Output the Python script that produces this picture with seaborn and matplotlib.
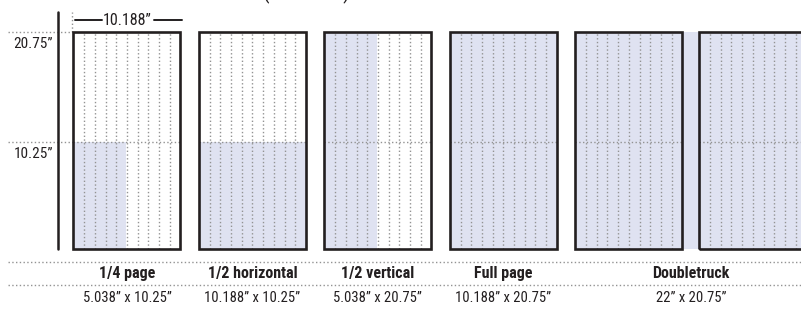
import matplotlib
matplotlib.use("Agg")
import matplotlib.pyplot as plt
import seaborn as sns

# ad sizes in inches
categories = ["1/4 page", "1/2 horizontal", "1/2 vertical", "Full page", "Doubletruck"]
ad_widths = [5.038, 10.188, 5.038, 10.188, 22]
ad_heights = [10.25, 10.25, 20.75, 20.75, 20.75]
size_labels = ["5.038\u201d x 10.25\u201d", "10.188\u201d x 10.25\u201d", "5.038\u201d x 20.75\u201d",
               "10.188\u201d x 20.75\u201d", "22\u201d x 20.75\u201d"]
page_w = 10.188
page_h = 20.75
half_h = 10.25
n_columns = 10
y_ticks = [20.75, 10.25]
y_tick_labels = ["20.75\u201d", "10.25\u201d"]

sns.set_theme(style="white")
plt.rcParams["font.family"] = ["Roboto Condensed", "Roboto", "DejaVu Sans"]

fig = plt.figure(figsize=(8.01, 3.11), dpi=100)
ax = fig.add_axes([0, 0, 1, 1])
ax.set_xlim(-7.0, 69.29)
ax.set_ylim(-5.93, 23.83)
ax.axis("off")

shade = "#dfe2f1"
ink = "#231f20"
dots = "#939393"
dot_style = dict(color=dots, lw=1.0, ls=(0, (1, 1.7)))
pitch = 11.95

lefts = [i * pitch for i in range(len(categories))]
ax.bar(lefts, ad_heights, width=ad_widths, align="edge", color=shade, linewidth=0, zorder=1)

for i, (left, w) in enumerate(zip(lefts, ad_widths)):
    pages = [left] if w <= page_w else [left, left + w - page_w]
    for p in pages:
        for k in range(1, n_columns):
            xc = p + k * page_w / n_columns
            ax.plot([xc, xc], [0, page_h], zorder=2, **dot_style)
        ax.plot([p, p + page_w], [half_h, half_h], zorder=2, **dot_style)
        ax.add_patch(plt.Rectangle((p, 0), page_w, page_h, fill=False, ec=ink, lw=1.9, zorder=3))
    cx = left + max(w, page_w) / 2
    ax.text(cx, -2.35, categories[i], ha="center", va="center", fontsize=11.5,
            fontweight="bold", color=ink)
    ax.text(cx, -4.72, size_labels[i], ha="center", va="center", fontsize=10.5, color=ink)

# left scale
for yv, lab in zip(y_ticks, y_tick_labels):
    ax.plot([-6.24, 0], [yv, yv], zorder=2, **dot_style)
    ax.text(-1.95, yv - 1.15, lab, ha="right", va="center", fontsize=11, color=ink)
ax.plot([-1.43, -1.43], [0, 22.68], color=ink, lw=1.8)

# width marker above first page
ax.plot([-0.1, -0.1], [page_h, 22.68], **dot_style)
ax.plot([0.14, 2.75], [21.9, 21.9], color=ink, lw=1.4)
ax.plot([7.7, 10.33], [21.9, 21.9], color=ink, lw=1.4)
ax.text(page_w / 2, 21.9, "10.188\u201d", ha="center", va="center", fontsize=11.5, color=ink)

# clipped heading at the very top
ax.text(22.2, 23.88, "(in inches)", ha="center", va="baseline", fontsize=15, color=ink)

# separators below the pages
for yv in [-1.24, -3.44]:
    ax.plot([-6.24, 69.29], [yv, yv], **dot_style)

fig.savefig("out.png", dpi=100)
